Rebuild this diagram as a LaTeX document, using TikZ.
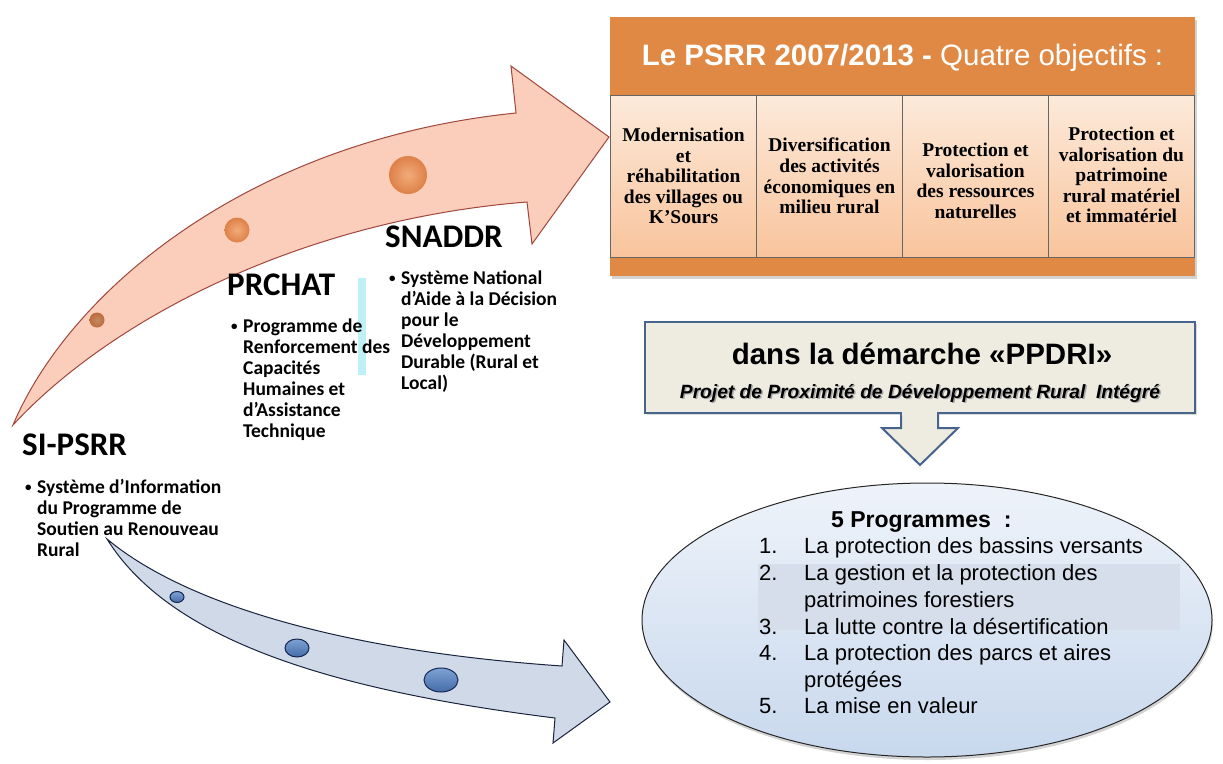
\documentclass[tikz,border=0pt]{standalone}
\usepackage{fontspec}
\setmainfont{Liberation Sans}
\newfontfamily\calib{Carlito}
\newfontfamily\tms{Liberation Serif}
\usetikzlibrary{shadows,shapes.geometric}
\definecolor{hdr}{RGB}{224,137,68}
\definecolor{celltop}{RGB}{252,234,218}
\definecolor{cellbot}{RGB}{249,196,156}
\definecolor{arrowfill}{RGB}{250,206,186}
\definecolor{arrowline}{RGB}{160,70,60}
\definecolor{bfill}{RGB}{208,217,232}
\definecolor{bline}{RGB}{25,35,60}
\definecolor{ppfill}{RGB}{238,236,225}
\definecolor{ppline}{RGB}{70,100,140}
\definecolor{elltop}{RGB}{238,243,250}
\definecolor{ellbot}{RGB}{200,216,237}
\definecolor{hilite}{RGB}{213,222,234}
\definecolor{cyanbar}{RGB}{190,240,246}
\definecolor{dotin}{RGB}{242,172,122}
\definecolor{dotout}{RGB}{222,128,72}
\definecolor{bdottop}{RGB}{125,162,212}
\definecolor{bdotbot}{RGB}{70,108,168}
\definecolor{bdotline}{RGB}{20,40,80}
\begin{document}
\begin{tikzpicture}[x=1pt,y=-1pt,
  cellbox/.style={draw=black!60, line width=0.6pt, top color=celltop, bottom color=cellbot, minimum width=146, minimum height=162, inner sep=0pt},
  celltext/.style={align=center, text=black, font=\tms\bfseries\fontsize{19.5}{20.5}\selectfont, inner sep=0pt},
  lefttitle/.style={anchor=base west, inner sep=0pt, font=\calib\bfseries\fontsize{33}{36}\selectfont},
  leftline/.style={anchor=base west, inner sep=0pt, font=\calib\bfseries\fontsize{19.5}{21}\selectfont},
  bul/.style={anchor=base west, inner sep=0pt, font=\calib\bfseries\fontsize{13}{13}\selectfont},
  listnum/.style={anchor=base west, inner sep=0pt, font=\fontsize{22}{26}\selectfont},
  bdot/.style={draw=bdotline, line width=1pt, top color=bdottop, bottom color=bdotbot}
]
\useasboundingbox (0,0) rectangle (1223,763);

% ---------- upper (orange) arrow ----------
\draw[fill=arrowfill, draw=arrowline, line width=1pt, line join=miter]
  (13,425) .. controls (70,290) and (250,140) .. (516,113)
  -- (511,66) -- (609,137) -- (532,244) -- (527,202)
  .. controls (300,220) and (110,320) .. (13,425) -- cycle;
\path[inner color=dotin!80!black, outer color=dotout!85!black] (97,320) circle [radius=7.5];
\path[inner color=dotin, outer color=dotout] (237,230) circle [radius=12.5];
\path[inner color=dotin, outer color=dotout] (408,175) circle [radius=19];

% ---------- lower (blue) arrow ----------
\draw[fill=bfill, draw=bline, line width=1pt, line join=miter]
  (107,539) .. controls (180,600) and (330,650) .. (562,666)
  -- (564,640) -- (610,702) -- (553,743) -- (555,718)
  .. controls (330,690) and (170,640) .. (107,539) -- cycle;
\path[bdot] (177,597) ellipse [x radius=7, y radius=5.5];
\path[bdot] (297,648) ellipse [x radius=12, y radius=9];
\path[bdot] (441,680) ellipse [x radius=17, y radius=12];

% ---------- cyan bar ----------
\fill[cyanbar] (358,278) rectangle (366,375);

% ---------- left texts ----------
\node[lefttitle] (t1) at (22,455) {SI-PSRR};
\node[bul] (b1) at (25,491) {•};
\node[leftline] (s1a) at (37,493) {Système d’Information};
\node[leftline] (s1b) at (37,514) {du Programme de};
\node[leftline] (s1c) at (37,535) {Soutien au Renouveau};
\node[leftline] (s1d) at (37,556) {Rural};

\node[lefttitle] (t2) at (227,295) {PRCHAT};
\node[bul] (b2) at (231,330) {•};
\node[leftline] (s2a) at (243,332) {Programme de};
\node[leftline] (s2b) at (243,353) {Renforcement des};
\node[leftline] (s2c) at (243,374) {Capacités};
\node[leftline] (s2d) at (243,395) {Humaines et};
\node[leftline] (s2e) at (243,416) {d’Assistance};
\node[leftline] (s2f) at (243,437) {Technique};

\node[lefttitle] (t3) at (385,247) {SNADDR};
\node[bul] (b3) at (389,282) {•};
\node[leftline] (s3a) at (401,284) {Système National};
\node[leftline] (s3b) at (401,305) {d’Aide à la Décision};
\node[leftline] (s3c) at (401,326) {pour le};
\node[leftline] (s3d) at (401,347) {Développement};
\node[leftline] (s3e) at (401,368) {Durable (Rural et};
\node[leftline] (s3f) at (401,389) {Local)};

% ---------- PSRR box ----------
\fill[hdr, drop shadow={shadow xshift=1.5pt, shadow yshift=-2.5pt, opacity=0.35}] (610,17) rectangle (1195,276);
\node[anchor=base, inner sep=0pt, text=white, font=\fontsize{29.5}{34}\selectfont] (hdrtext) at (902.5,65)
  {\bfseries Le PSRR 2007/2013 -\mdseries{} Quatre objectifs :};
\node[cellbox] (c1) at (683.5,176) {};
\node[cellbox] (c2) at (829.5,176) {};
\node[cellbox] (c3) at (975.5,176) {};
\node[cellbox] (c4) at (1121.5,176) {};
\node[celltext] (x1) at (683.5,176) {Modernisation\\et\\réhabilitation\\des villages ou\\K’Sours};
\node[celltext] (x2) at (829.5,176) {Diversification\\des activités\\économiques en\\milieu rural};
\node[celltext] (x3) at (975.5,181) {Protection et\\valorisation\\des ressources\\naturelles};
\node[celltext] (x4) at (1121.5,175) {Protection et\\valorisation du\\patrimoine\\rural matériel\\et immatériel};

% ---------- PPDRI box and down arrow ----------
\draw[fill=ppfill, draw=ppline, line width=2pt, line join=miter]
  (901,410) -- (901,428) -- (882,428) -- (920,465) -- (958,428) -- (938,428) -- (938,410);
\draw[fill=ppfill, draw=ppline, line width=2pt, drop shadow={shadow xshift=1.5pt, shadow yshift=-2pt, opacity=0.3}]
  (645,322) rectangle (1195,413);
\fill[ppfill] (902,411) rectangle (937,416);
\node[anchor=base, inner sep=0pt, font=\bfseries\fontsize{29.5}{33}\selectfont] (pp1) at (922,364) {dans la démarche «PPDRI»};
\node[anchor=base, inner sep=0pt, text=black!35, font=\bfseries\itshape\fontsize{19.2}{22}\selectfont] (pp2s) at (921.5,399.5) {Projet de Proximité de Développement Rural~~Intégré};
\node[anchor=base, inner sep=0pt, font=\bfseries\itshape\fontsize{19.2}{22}\selectfont] (pp2) at (920,398) {Projet de Proximité de Développement Rural~~Intégré};

% ---------- ellipse ----------
\path[draw=black!85, line width=1pt, top color=elltop, bottom color=ellbot,
  drop shadow={shadow xshift=1pt, shadow yshift=-3pt, opacity=0.35}]
  (927,620) ellipse [x radius=285, y radius=137];
\fill[hilite] (758,564) rectangle (1180,630);
\node[anchor=base west, inner sep=0pt, font=\bfseries\fontsize{23}{27}\selectfont] (prog) at (831,527) {5 Programmes~~:};
\node[listnum] (n1) at (759,553) {1.};
\node[listnum] (l1) at (804,553) {La protection des bassins versants};
\node[listnum] (n2) at (759,580) {2.};
\node[listnum] (l2) at (804,580) {La gestion et la protection des};
\node[listnum] (l2b) at (804,607) {patrimoines forestiers};
\node[listnum] (n3) at (759,634) {3.};
\node[listnum] (l3) at (804,634) {La lutte contre la désertification};
\node[listnum] (n4) at (759,660.5) {4.};
\node[listnum] (l4) at (804,660.5) {La protection des parcs et aires};
\node[listnum] (l4b) at (804,687) {protégées};
\node[listnum] (n5) at (759,713.5) {5.};
\node[listnum] (l5) at (804,713.5) {La mise en valeur};
\end{tikzpicture}
\end{document}
